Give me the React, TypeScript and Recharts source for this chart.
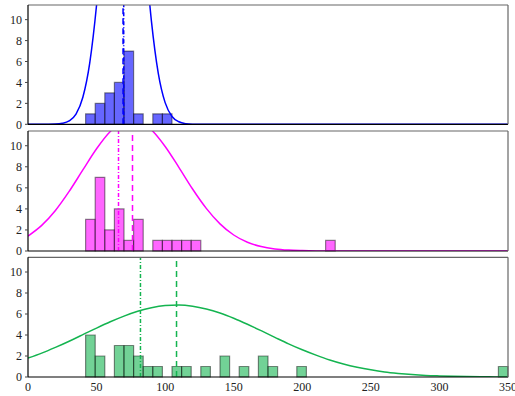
import React from 'react';
import { ComposedChart, Line, XAxis, YAxis, ReferenceArea, ReferenceLine } from 'recharts';

const BIN_WIDTH = 7;
const xTicks = [0, 50, 100, 150, 200, 250, 300, 350];
const yTicks = [0, 2, 4, 6, 8, 10];

const topBinStarts = [42, 49, 56, 63, 70, 77, 91, 98];
const topCounts = [1, 2, 3, 4, 7, 1, 1, 1];
const midBinStarts = [42, 49, 56, 63, 70, 77, 91, 98, 105, 112, 119, 217];
const midCounts = [3, 7, 2, 4, 1, 3, 1, 1, 1, 1, 1, 1];
const botBinStarts = [42, 49, 63, 70, 77, 84, 91, 105, 112, 126, 140, 154, 168, 175, 196, 343];
const botCounts = [4, 2, 3, 3, 2, 1, 1, 1, 1, 1, 2, 1, 2, 1, 1, 1];

const topCurveX = [0, 10, 20, 25, 30, 35, 40, 45, 50, 55, 60, 65, 70, 75, 80, 85, 90, 95, 100, 105, 110, 115, 120, 130, 150, 200, 250, 300, 350];
const topCurveY = [0, 0, 0.02, 0.09, 0.32, 0.97, 2.58, 5.85, 11.4, 19.1, 27.5, 33.9, 36, 32.7, 25.5, 17.1, 9.86, 4.87, 2.07, 0.75, 0.24, 0.06, 0.01, 0, 0, 0, 0, 0, 0];

const curveX = [0, 10, 20, 30, 40, 50, 60, 70, 80, 90, 100, 110, 120, 130, 140, 150, 160, 170, 180, 190, 200, 210, 220, 230, 240, 250, 260, 270, 280, 290, 300, 310, 320, 330, 340, 350];
const midCurveY = [1.42, 2.43, 3.85, 5.66, 7.7, 9.71, 11.35, 12.3, 12.36, 11.51, 9.93, 7.95, 5.89, 4.05, 2.58, 1.52, 0.83, 0.42, 0.2, 0.09, 0.04, 0.01, 0, 0, 0, 0, 0, 0, 0, 0, 0, 0, 0, 0, 0, 0];
const botCurveY = [1.8, 2.27, 2.82, 3.41, 4.03, 4.66, 5.26, 5.8, 6.26, 6.6, 6.8, 6.85, 6.74, 6.48, 6.09, 5.59, 5.02, 4.41, 3.78, 3.16, 2.59, 2.08, 1.62, 1.24, 0.93, 0.68, 0.48, 0.34, 0.23, 0.15, 0.1, 0.06, 0.04, 0.02, 0.01, 0.01];

const topMean = 69.3;
const topMedian = 69.8;
const midMean = 76.2;
const midMedian = 66;
const botMean = 108.3;
const botMedian = 82;

const FONT = { fontFamily: '"Liberation Serif", serif', fontSize: 12, fill: '#222' };

type PanelProps = {
  top: number;
  height: number;
  marginTop: number;
  marginBottom: number;
  showX: boolean;
  bins: number[];
  counts: number[];
  cx: number[];
  cy: number[];
  color: string;
  mean: number;
  median: number;
};

function Panel(p: PanelProps) {
  const data = p.cx.map((x, i) => ({ x, y: p.cy[i] }));
  return (
    <div style={{ position: 'absolute', left: 0, top: p.top, width: 515, height: p.height }}>
      <ComposedChart
        width={515}
        height={p.height}
        data={data}
        margin={{ top: p.marginTop, right: 7, bottom: p.marginBottom, left: 0 }}
      >
        <XAxis
          xAxisId={0}
          dataKey="x"
          type="number"
          domain={[0, 350]}
          ticks={xTicks}
          interval={0}
          allowDataOverflow
          hide={!p.showX}
          height={p.showX ? 19 : 0}
          tickLine={false}
          axisLine={false}
          tickSize={0}
          tickMargin={5}
          tick={FONT}
        />
        <XAxis
          xAxisId="b"
          type="number"
          domain={[0, 350]}
          ticks={xTicks}
          interval={0}
          allowDataOverflow
          orientation="bottom"
          mirror
          tick={false}
          tickSize={3.5}
          axisLine={{ stroke: '#000', strokeWidth: 1.2 }}
          tickLine={{ stroke: '#000', strokeWidth: 1 }}
        />
        <XAxis
          xAxisId="t"
          type="number"
          domain={[0, 350]}
          ticks={xTicks}
          interval={0}
          allowDataOverflow
          orientation="top"
          mirror
          tick={false}
          tickSize={3.5}
          axisLine={{ stroke: '#666', strokeWidth: 1.2 }}
          tickLine={{ stroke: '#666', strokeWidth: 1 }}
        />
        <YAxis
          yAxisId={0}
          type="number"
          domain={[0, 11.4]}
          ticks={yTicks}
          interval={0}
          allowDataOverflow
          width={28}
          tickSize={3}
          tickMargin={3}
          axisLine={{ stroke: '#000', strokeWidth: 1.2 }}
          tickLine={{ stroke: '#444', strokeWidth: 1 }}
          tick={FONT}
        />
        <YAxis
          yAxisId="r"
          type="number"
          domain={[0, 11.4]}
          ticks={yTicks}
          interval={0}
          allowDataOverflow
          orientation="right"
          mirror
          tick={false}
          tickSize={3}
          axisLine={{ stroke: '#666', strokeWidth: 1.2 }}
          tickLine={{ stroke: '#666', strokeWidth: 1 }}
        />
        {p.bins.map((b, i) => (
          <ReferenceArea
            key={i}
            xAxisId={0}
            yAxisId={0}
            x1={b}
            x2={b + BIN_WIDTH}
            y1={0}
            y2={p.counts[i]}
            fill={p.color}
            fillOpacity={0.6}
            stroke="#000"
            strokeOpacity={0.45}
            strokeWidth={1.2}
          />
        ))}
        <Line
          xAxisId={0}
          yAxisId={0}
          dataKey="y"
          type="monotone"
          stroke={p.color}
          strokeWidth={1.5}
          dot={false}
          activeDot={false}
          isAnimationActive={false}
        />
        <ReferenceLine xAxisId={0} yAxisId={0} x={p.median} stroke={p.color} strokeWidth={1.5} strokeDasharray="4 2 1 2" />
        <ReferenceLine xAxisId={0} yAxisId={0} x={p.mean} stroke={p.color} strokeWidth={1.5} strokeDasharray="6 4" />
      </ComposedChart>
    </div>
  );
}

export default function App() {
  return (
    <div style={{ position: 'absolute', left: 0, top: 0, width: 515, height: 396, background: '#fff' }}>
      <Panel top={0} height={136} marginTop={5} marginBottom={11.7} showX={false}
        bins={topBinStarts} counts={topCounts} cx={topCurveX} cy={topCurveY}
        color="#0000ff" mean={topMean} median={topMedian} />
      <Panel top={126} height={136} marginTop={5} marginBottom={11} showX={false}
        bins={midBinStarts} counts={midCounts} cx={curveX} cy={midCurveY}
        color="#ff00ff" mean={midMean} median={midMedian} />
      <Panel top={252} height={144} marginTop={5.3} marginBottom={0} showX={true}
        bins={botBinStarts} counts={botCounts} cx={curveX} cy={botCurveY}
        color="#14b450" mean={botMean} median={botMedian} />
    </div>
  );
}
